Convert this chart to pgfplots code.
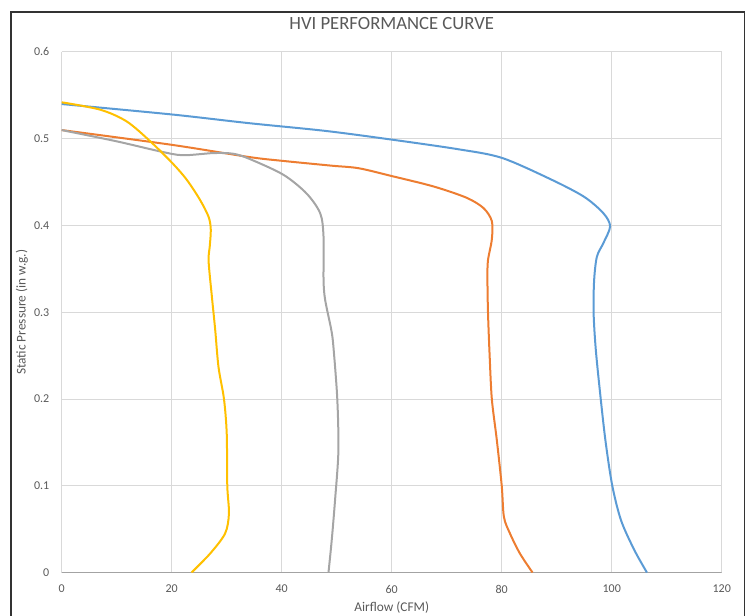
\documentclass[border=0pt]{standalone}
\usepackage{fontspec}
\setmainfont{Carlito}
\usepackage{pgfplots}
\pgfplotsset{compat=1.18}
\definecolor{xlblue}{HTML}{5B9BD5}
\definecolor{xlorange}{HTML}{ED7D31}
\definecolor{xlgray}{HTML}{A5A5A5}
\definecolor{xlgold}{HTML}{FFC000}
\definecolor{gridgray}{HTML}{D9D9D9}
\definecolor{txtgray}{HTML}{595959}
\begin{document}
\begin{tikzpicture}[x=1pt,y=1pt]
\useasboundingbox (-46.3,-32.6) rectangle (513.2,429.4);
\draw[line width=1.1pt, color=black!80] (-38,-40) -- (-38,420.4) -- (512,420.4) -- (512,-40);
\begin{axis}[
    at={(0,0)}, anchor=south west,
    scale only axis, width=495pt, height=390.4pt,
    xmin=0, xmax=120, ymin=0, ymax=0.6,
    xtick={0,20,40,60,80,100,120},
    ytick={0,0.1,0.2,0.3,0.4,0.5,0.6},
    grid=major,
    major grid style={color=gridgray, line width=0.75pt},
    axis line style={draw=none},
    major tick length=0pt,
    /pgf/number format/assume math mode=true,
    tick label style={font=\fontsize{9}{10}\selectfont, text=txtgray},
    xticklabel style={yshift=-5.8pt},
    yticklabel style={xshift=-5.8pt},
    title={HVI PERFORMANCE CURVE},
    title style={at={(0.5,1)}, anchor=center, yshift=15pt, font=\fontsize{14}{16}\selectfont, text=txtgray},
    xlabel={Airflow (CFM)},
    xlabel style={at={(0.5,0)}, anchor=center, yshift=-25.9pt, font=\fontsize{10}{12}\selectfont, text=txtgray},
    ylabel={Static Pressure (in w.g.)},
    ylabel style={at={(0,0.5)}, anchor=center, yshift=29.8pt, font=\fontsize{10}{12}\selectfont, text=txtgray},
    every axis plot/.append style={line width=1.5pt, smooth, tension=0.5, mark=none},
]
\draw[color=gridgray!75!black, line width=0.75pt] (axis cs:0,0) -- (axis cs:120,0);
% blue
\addplot[xlblue] coordinates {
(0,0.540) (20,0.528) (34,0.518) (48,0.509) (60,0.499) (72,0.488) (80,0.478)
(89,0.453) (95,0.433) (98.5,0.414) (99.7,0.399) (98.5,0.380) (97.3,0.364)
(96.8,0.337) (96.7,0.300) (97.1,0.257) (98,0.200) (98.9,0.150) (100.1,0.100)
(101.7,0.060) (104.1,0.026) (106.4,0)
};
% orange
\addplot[xlorange] coordinates {
(0,0.510) (20,0.493) (34,0.479) (40,0.4746) (49,0.469) (54,0.466) (60,0.457)
(67.6,0.445) (73.6,0.432) (76.7,0.420) (78.2,0.405) (78.2,0.384) (77.5,0.360)
(77.4,0.340) (77.5,0.300) (77.8,0.250) (78.2,0.200) (79.1,0.153) (80,0.100)
(80.4,0.064) (81.5,0.045) (83.3,0.022) (85.6,0)
};
% gray
\addplot[xlgray] coordinates {
(0,0.510) (10,0.497) (17.9,0.4854) (22,0.481) (27.6,0.4835) (31.2,0.4827)
(34.2,0.4766) (40.3,0.4585) (44.5,0.437) (47,0.414) (47.6,0.387) (47.6,0.337)
(47.9,0.314) (49,0.280) (49.4,0.260) (50.1,0.200) (50.3,0.140) (49.7,0.084)
(49.1,0.038) (48.5,0)
};
% gold
\addplot[xlgold] coordinates {
(0,0.542) (7,0.5335) (11.8,0.520) (16.1,0.497) (20.1,0.472) (22.7,0.453)
(25.1,0.430) (26.7,0.410) (27.1,0.395) (26.9,0.375) (26.7,0.359) (27.3,0.318)
(27.9,0.280) (28.5,0.237) (29.5,0.200) (30,0.160) (30.1,0.100) (30.4,0.068)
(29.7,0.045) (27,0.022) (23.6,0)
};
\end{axis}
\end{tikzpicture}
\end{document}
